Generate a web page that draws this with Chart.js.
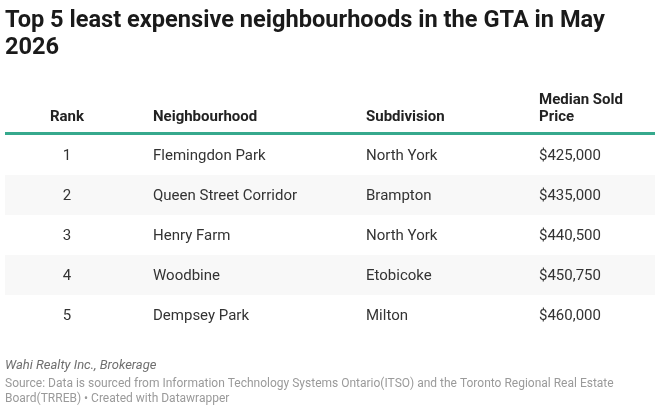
<!DOCTYPE html>
<html>
<head>
<meta charset="utf-8">
<script src="https://cdn.jsdelivr.net/npm/chart.js@4"></script>
<style>
  html, body { margin: 0; padding: 0; background: #fff; }
  #wrap { width: 660px; height: 411px; }
</style>
</head>
<body>
<div id="wrap"><canvas id="table" width="660" height="411"></canvas></div>
<script>
// Table data
const titleLines = ['Top 5 least expensive neighbourhoods in the GTA in May', '2026'];
const headers = [['Rank'], ['Neighbourhood'], ['Subdivision'], ['Median Sold', 'Price']];
const ranks = [1, 2, 3, 4, 5];
const neighbourhoods = ['Flemingdon Park', 'Queen Street Corridor', 'Henry Farm', 'Woodbine', 'Dempsey Park'];
const subdivisions = ['North York', 'Brampton', 'North York', 'Etobicoke', 'Milton'];
const medianPrices = [425000, 435000, 440500, 450750, 460000];
const byline = 'Wahi Realty Inc., Brokerage';
const sourceLines = [
  'Source: Data is sourced from Information Technology Systems Ontario(ITSO) and the Toronto Regional Real Estate',
  'Board(TRREB) \u2022 Created with Datawrapper'
];

// Format number as price string
function formatPrice(num) {
  return '$' + num.toLocaleString('en-US');
}

// Column placement
const columns = [
  { x: 67, align: 'center' },
  { x: 153, align: 'left' },
  { x: 366, align: 'left' },
  { x: 539, align: 'left' }
];

const FONT = 'Roboto, "Noto Sans", sans-serif';

function cellValues(i) {
  return [String(ranks[i]), neighbourhoods[i], subdivisions[i], formatPrice(medianPrices[i])];
}

// Draws bands, header, cells, title and notes using the y scale rows
const tablePlugin = {
  id: 'tablePlugin',
  beforeDraw(chart) {
    const ctx = chart.ctx;
    ctx.save();
    ctx.fillStyle = '#fff';
    ctx.fillRect(0, 0, chart.width, chart.height);
    ctx.restore();
  },
  beforeDatasetsDraw(chart) {
    const { ctx, chartArea, scales: { y } } = chart;
    const rowH = (chartArea.bottom - chartArea.top) / ranks.length;
    ctx.save();
    ctx.fillStyle = '#f8f8f8';
    ranks.forEach((r, i) => {
      if (i % 2 === 1) {
        const cy = y.getPixelForValue(i);
        ctx.fillRect(chartArea.left, cy - rowH / 2, chartArea.right - chartArea.left, rowH);
      }
    });
    ctx.restore();
  },
  afterDatasetsDraw(chart) {
    const { ctx, chartArea, scales: { y } } = chart;
    ctx.save();

    // title
    ctx.fillStyle = '#1a1a1a';
    ctx.font = `bold 23.6px ${FONT}`;
    ctx.textAlign = 'left';
    ctx.textBaseline = 'alphabetic';
    titleLines.forEach((t, i) => ctx.fillText(t, 5, 27 + i * 27));

    // header
    ctx.fillStyle = '#222';
    ctx.font = `bold 15px ${FONT}`;
    headers.forEach((lines, c) => {
      ctx.textAlign = columns[c].align;
      lines.forEach((t, k) => {
        const base = 121 - (lines.length - 1 - k) * 17;
        ctx.fillText(t, columns[c].x, base);
      });
    });

    // header rule
    ctx.strokeStyle = '#36a98d';
    ctx.lineWidth = 3;
    ctx.beginPath();
    ctx.moveTo(chartArea.left, chartArea.top - 1.5);
    ctx.lineTo(chartArea.right, chartArea.top - 1.5);
    ctx.stroke();

    // cells
    ctx.fillStyle = '#333';
    ctx.font = `15px ${FONT}`;
    ctx.textBaseline = 'middle';
    ranks.forEach((r, i) => {
      const cy = y.getPixelForValue(i) + 1.5;
      cellValues(i).forEach((v, c) => {
        ctx.textAlign = columns[c].align;
        ctx.fillText(v, columns[c].x, cy);
      });
    });

    // notes
    ctx.textAlign = 'left';
    ctx.textBaseline = 'alphabetic';
    ctx.fillStyle = '#6f6f6f';
    ctx.font = `italic 13px ${FONT}`;
    ctx.fillText(byline, 5, 369);
    ctx.fillStyle = '#9a9a9a';
    ctx.font = `12px ${FONT}`;
    sourceLines.forEach((t, i) => ctx.fillText(t, 5, 387 + i * 15));

    ctx.restore();
  }
};

new Chart(document.getElementById('table').getContext('2d'), {
  type: 'bar',
  data: {
    labels: ranks.map(String),
    datasets: [{
      label: 'Median Sold Price',
      data: medianPrices,
      backgroundColor: 'rgba(0,0,0,0)',
      borderWidth: 0,
      barPercentage: 1,
      categoryPercentage: 1
    }]
  },
  options: {
    indexAxis: 'y',
    responsive: false,
    animation: false,
    devicePixelRatio: 1,
    layout: { padding: { top: 135, bottom: 76, left: 5, right: 5 } },
    scales: {
      x: { display: false, min: 0 },
      y: { display: false, offset: true }
    },
    plugins: {
      legend: { display: false },
      tooltip: { enabled: false }
    }
  },
  plugins: [tablePlugin]
});
</script>
</body>
</html>
